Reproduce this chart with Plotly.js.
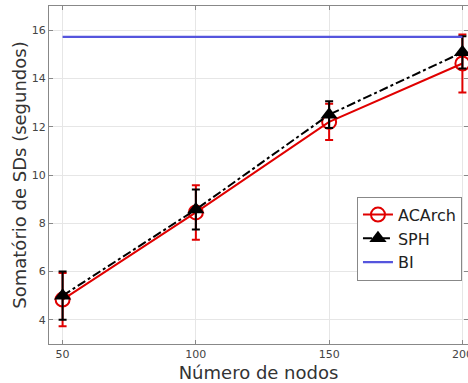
<!DOCTYPE html>
<html>
<head>
<meta charset="utf-8">
<script src="https://cdn.plot.ly/plotly-3.0.1.min.js"></script>
<style>html,body{margin:0;padding:0;background:#fff;}#chart{width:468px;height:383px;}</style>
</head>
<body>
<div id="chart"></div>
<script>
var nodes = [50, 100, 150, 200];
var acarch = [4.84, 8.45, 12.2, 14.62];
var acarchErr = [1.1, 1.13, 0.75, 1.2];
var sph = [5.0, 8.57, 12.5, 15.08];
var sphErr = [1.0, 0.83, 0.55, 0.67];
var bi = [15.72, 15.72, 15.72, 15.72];

var traces = [
  {
    x: nodes, y: acarch, name: 'ACArch', type: 'scatter', mode: 'lines+markers',
    line: {color: '#e00000', width: 2},
    marker: {symbol: 'circle-open', size: 14, color: '#e00000', line: {width: 2, color: '#e00000'}},
    error_y: {type: 'data', array: acarchErr, visible: true, color: '#e00000', thickness: 2, width: 4}
  },
  {
    x: nodes, y: sph, name: 'SPH', type: 'scatter', mode: 'lines+markers',
    line: {color: '#000000', width: 2, dash: 'dashdot'},
    marker: {symbol: 'triangle-up', size: 15, color: '#000000'},
    error_y: {type: 'data', array: sphErr, visible: true, color: '#000000', thickness: 2, width: 4}
  },
  {
    x: nodes, y: bi, name: 'BI', type: 'scatter', mode: 'lines',
    line: {color: '#5555dd', width: 2.2}
  }
];

var layout = {
  width: 468, height: 383,
  margin: {l: 49, r: 0, t: 6, b: 39},
  paper_bgcolor: '#ffffff', plot_bgcolor: '#ffffff',
  font: {family: 'DejaVu Sans, sans-serif', color: '#333333'},
  showlegend: true,
  legend: {
    x: 0.735, y: 0.436, xanchor: 'left', yanchor: 'top',
    bgcolor: '#ffffff', bordercolor: '#888888', borderwidth: 1,
    font: {size: 16, color: '#222222'}, tracegroupgap: 0, itemwidth: 30
  },
  xaxis: {
    range: [44.9, 202.1], tickvals: nodes, ticktext: ['50', '100', '150', '200'],
    ticklabeloverflow: 'allow',
    showgrid: true, gridcolor: '#e6e6e6', gridwidth: 1,
    zeroline: false, showline: true, linecolor: '#888888', linewidth: 1, mirror: 'ticks',
    ticks: 'inside', ticklen: 4, tickcolor: '#888888',
    tickfont: {size: 11, color: '#444444'},
    title: {text: 'Número de nodos', font: {size: 18, color: '#333333'}, standoff: 7}
  },
  yaxis: {
    range: [3, 17], tickvals: [4, 6, 8, 10, 12, 14, 16],
    showgrid: true, gridcolor: '#e6e6e6', gridwidth: 1,
    zeroline: false, showline: true, linecolor: '#888888', linewidth: 1, mirror: 'ticks',
    ticks: 'inside', ticklen: 4, tickcolor: '#888888',
    tickfont: {size: 11, color: '#444444'},
    title: {text: 'Somatório de SDs (segundos)', font: {size: 18, color: '#333333'}, standoff: 0}
  }
};

Plotly.newPlot('chart', traces, layout, {displayModeBar: false, staticPlot: true});
</script>
</body>
</html>
